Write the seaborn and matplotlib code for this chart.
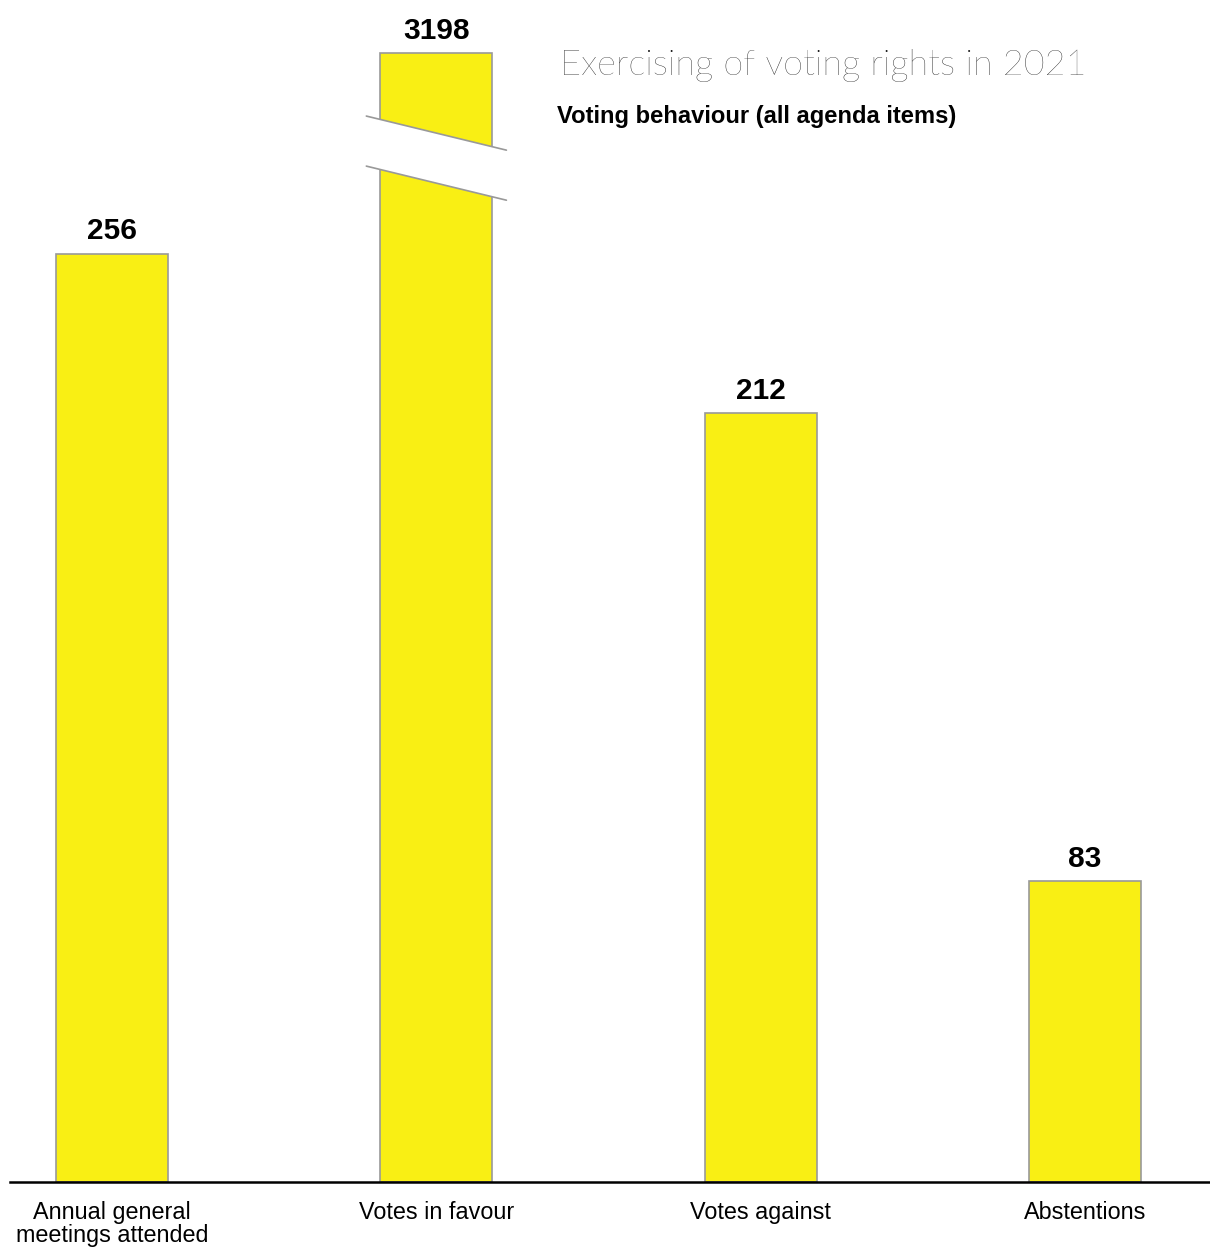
import numpy as np
import pandas as pd
import matplotlib
matplotlib.use("Agg")
import matplotlib.pyplot as plt
import seaborn as sns

# chart data
categories = ["Annual general\nmeetings attended", "Votes in favour", "Votes against", "Abstentions"]
values = [256, 3198, 212, 83]
value_labels = ["256", "3198", "212", "83"]

# the tall bar is cut (broken axis), drawn to this height
cap = 311.3

sns.set_theme(style="white")
plt.rcParams["font.family"] = ["Liberation Sans", "DejaVu Sans"]

df = pd.DataFrame({"category": categories, "value": values})
df["shown"] = np.minimum(df["value"], cap)

fig = plt.figure(figsize=(12.10, 12.48), dpi=100)
ax = fig.add_axes([10 / 1210, 66 / 1248, 1200 / 1210, 1182 / 1248])

sns.barplot(data=df, x="category", y="shown", color="#F9EF14", saturation=1,
            width=0.346, edgecolor="#999999", linewidth=1.2, ax=ax)

ax.set_xlim(-0.315, 3.386)
ax.set_ylim(0, 325.9)
ax.set_xlabel("")
ax.set_ylabel("")
ax.set_yticks([])
ax.tick_params(axis="x", length=0, pad=14, labelsize=16.8, colors="black")
for s in ["left", "right", "top"]:
    ax.spines[s].set_visible(False)
ax.spines["bottom"].set_color("black")
ax.spines["bottom"].set_linewidth(1.8)
ax.spines["bottom"].set_zorder(5)
for lab in ax.get_xticklabels():
    lab.set_linespacing(1.0)

# value labels
for i, (v, lbl) in enumerate(zip(df["shown"], value_labels)):
    ax.annotate(lbl, (i, v), xytext=(0, 6), textcoords="offset points",
                ha="center", va="bottom", fontsize=21.5, fontweight="bold", color="black")

# axis break on the tall bar
i = values.index(max(values))
x0, x1 = i - 0.216, i + 0.216
y_top = (293.9, 284.5)
y_bot = (280.1, 270.7)
ax.fill([x0, x1, x1, x0], [y_top[0], y_top[1], y_bot[1], y_bot[0]],
        color="white", zorder=4, lw=0)
ax.plot([x0, x1], y_top, color="#999999", lw=1.2, zorder=5)
ax.plot([x0, x1], y_bot, color="#999999", lw=1.2, zorder=5)

fig.text(560 / 1210, 1 - 66 / 1248, "Exercising of voting rights in 2021",
         fontsize=26, fontweight="light", family=["Lato", "DejaVu Sans"],
         ha="left", va="center", color="#111111")
fig.text(557 / 1210, 1 - 117 / 1248, "Voting behaviour (all agenda items)",
         fontsize=17.1, fontweight="bold", ha="left", va="center", color="black")

fig.savefig("out.png", dpi=100, facecolor="white")
